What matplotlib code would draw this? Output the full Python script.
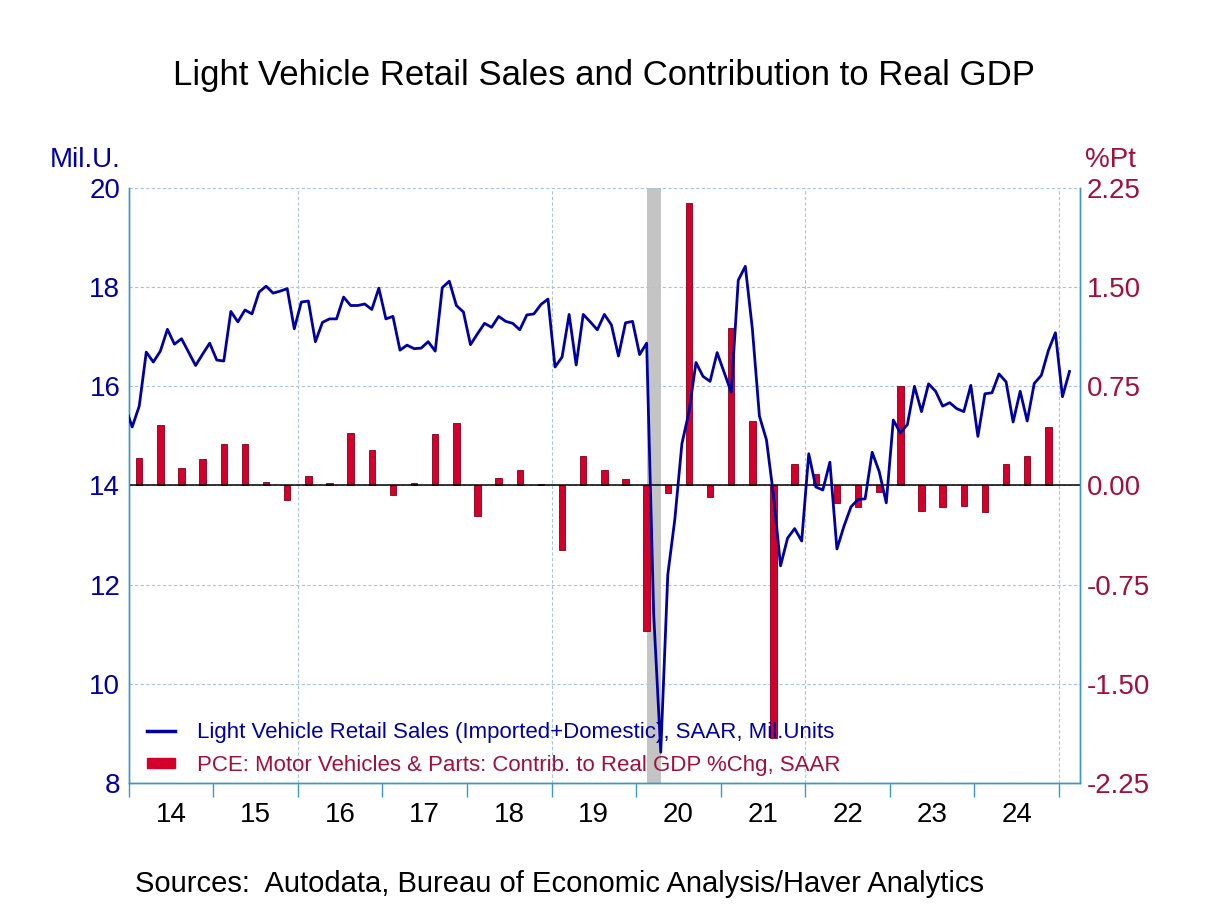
import numpy as np
import matplotlib.pyplot as plt
from matplotlib.lines import Line2D
from matplotlib.patches import Patch

# monthly light vehicle sales, SAAR, mil. units (Dec 2013 .. Feb 2025)
sales = [
    15.6,
    15.18, 15.60, 16.69, 16.49, 16.71, 17.15, 16.85, 16.96, 16.69, 16.42, 16.65, 16.87,   # 2014
    16.53, 16.51, 17.51, 17.30, 17.54, 17.46, 17.90, 18.02, 17.88, 17.92, 17.97, 17.16,   # 2015
    17.70, 17.72, 16.90, 17.29, 17.36, 17.36, 17.80, 17.63, 17.63, 17.66, 17.55, 17.98,   # 2016
    17.36, 17.41, 16.73, 16.83, 16.76, 16.77, 16.90, 16.71, 17.99, 18.12, 17.63, 17.50,   # 2017
    16.84, 17.06, 17.27, 17.19, 17.41, 17.31, 17.27, 17.14, 17.44, 17.46, 17.65, 17.76,   # 2018
    16.39, 16.59, 17.45, 16.43, 17.45, 17.30, 17.14, 17.45, 17.24, 16.61, 17.28, 17.31,   # 2019
    16.64, 16.87, 11.40, 8.62, 12.20, 13.32, 14.84, 15.48, 16.48, 16.20, 16.10, 16.68,    # 2020
    16.28, 15.88, 18.14, 18.42, 17.16, 15.40, 14.92, 13.80, 12.38, 12.94, 13.13, 12.88,   # 2021
    14.64, 13.97, 13.91, 14.47, 12.72, 13.18, 13.57, 13.72, 13.73, 14.67, 14.28, 13.65,   # 2022
    15.32, 15.06, 15.23, 16.00, 15.49, 16.05, 15.90, 15.60, 15.67, 15.55, 15.49, 16.02,   # 2023
    14.99, 15.85, 15.87, 16.25, 16.09, 15.28, 15.90, 15.30, 16.06, 16.22, 16.72, 17.08,   # 2024
    15.79, 16.30,                                                                         # 2025
]

# quarterly contribution to real GDP growth, %pt (Q1 2014 .. Q4 2024)
contrib = [
    0.21, 0.46, 0.13, 0.20,
    0.31, 0.31, 0.03, -0.11,
    0.075, 0.02, 0.40, 0.27,
    -0.07, 0.015, 0.39, 0.47,
    -0.23, 0.06, 0.12, 0.01,
    -0.49, 0.22, 0.12, 0.05,
    -1.10, -0.06, 2.14, -0.09,
    1.19, 0.49, -1.91, 0.165,
    0.085, -0.13, -0.16, -0.05,
    0.75, -0.19, -0.16, -0.155,
    -0.20, 0.16, 0.22, 0.44,
]

years = list(range(2014, 2025))
year_labels = [str(y)[2:] for y in years]

navy = '#0000A0'
maroon = '#A0103C'
barred = '#D4002C'
spine = '#3C96C8'
gridc = '#A8C4DC'

plt.rcParams['font.family'] = ['Liberation Sans', 'DejaVu Sans']

t_month = 2013 + 11 / 12 + (np.arange(len(sales)) + 0.5) / 12
t_quarter = 2014 + (np.arange(len(contrib)) + 0.5) / 4

fig = plt.figure(figsize=(12.08, 9.06), dpi=100)
ax = fig.add_axes([0.1065, 0.1358, 0.7876, 0.6567])
ax2 = ax.twinx()

# bars + shading on the lower axes (right scale)
ax.axvspan(2020 + 1.5 / 12, 2020 + 3.5 / 12, color='#C4C4C4', lw=0, zorder=0)
ax.bar(t_quarter, contrib, width=0.075, color=barred, edgecolor='#80001C', linewidth=0.6, zorder=3)
ax.axhline(0, color='black', lw=1.1, zorder=4)
ax.set_ylim(-2.25, 2.25)
ax.set_yticks(np.arange(-2.25, 2.26, 0.75))
ax.set_yticklabels(['%.2f' % v for v in np.arange(-2.25, 2.26, 0.75)])
ax.yaxis.tick_right()
ax.tick_params(axis='y', length=0, labelsize=20, labelcolor=maroon, pad=5)

# line on top axes (left scale)
ax2.plot(t_month, sales, color=navy, lw=2, zorder=5)
ax2.set_ylim(8, 20)
ax2.set_yticks(range(8, 21, 2))
ax2.yaxis.tick_left()
ax2.tick_params(axis='y', length=0, labelsize=20, labelcolor=navy, pad=6)

ax.set_xlim(2014, 2025.25)
ax.set_xticks(range(2014, 2026))
ax.set_xticklabels([])
ax.set_xticks([y + 0.5 for y in years], minor=True)
ax.set_xticklabels(year_labels, minor=True)
ax.tick_params(axis='x', which='major', direction='out', length=10, color=spine, width=1)
ax.tick_params(axis='x', which='minor', length=0, labelsize=20, pad=14)

# grid
for yv in np.arange(-2.25, 2.26, 0.75):
    ax.axhline(yv, color=gridc, lw=0.8, ls=(0, (3, 2)), zorder=1)
for xv in [2016, 2019, 2022, 2025]:
    ax.axvline(xv, color=gridc, lw=0.8, ls=(0, (3, 2)), zorder=1)

for a in (ax, ax2):
    for s in a.spines.values():
        s.set_color(spine)
        s.set_linewidth(1)
    a.spines['top'].set_visible(False)

handles = [Line2D([0], [0], color=navy, lw=2.5),
           Patch(facecolor=barred, edgecolor=barred)]
labels = ['Light Vehicle Retail Sales (Imported+Domestic), SAAR, Mil.Units',
          'PCE: Motor Vehicles & Parts: Contrib. to Real GDP %Chg, SAAR']
leg = ax2.legend(handles, labels, loc='lower left', bbox_to_anchor=(-0.002, -0.022),
                 frameon=False, fontsize=16, handlelength=1.25, handleheight=0.35,
                 labelspacing=0.55, handletextpad=1.0)
leg.get_texts()[0].set_color(navy)
leg.get_texts()[1].set_color(maroon)

fig.text(0.5, 0.917, 'Light Vehicle Retail Sales and Contribution to Real GDP',
         ha='center', va='center', fontsize=25)
fig.text(0.1, 0.823, 'Mil.U.', ha='right', va='center', fontsize=20, color=navy)
fig.text(0.898, 0.823, '%Pt', ha='left', va='center', fontsize=20, color=maroon)
fig.text(0.112, 0.0243, 'Sources:  Autodata, Bureau of Economic Analysis/Haver Analytics',
         ha='left', va='center', fontsize=21)

fig.savefig('out.png', dpi=100)
